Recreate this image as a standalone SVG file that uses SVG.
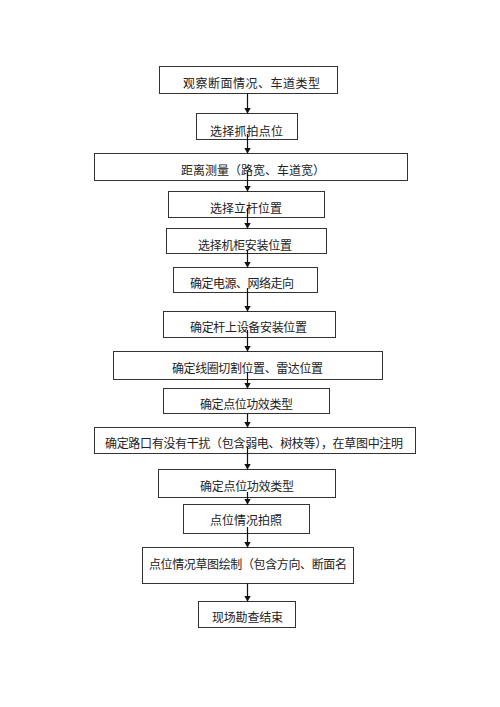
<svg xmlns="http://www.w3.org/2000/svg" width="500" height="707" viewBox="0 0 500 707">
<defs>
<marker id="ah" viewBox="0 0 6 7" refX="6" refY="3.5" markerWidth="6" markerHeight="7" orient="auto" markerUnits="userSpaceOnUse">
<path d="M0,0 L6,3.5 L0,7 z" fill="#111"/>
</marker>
<style>
.box rect{fill:#fff;stroke:#333;stroke-width:1}
.box text{font-family:"Liberation Serif","Noto Sans CJK SC",serif;font-size:12px;fill:#222;text-anchor:middle}
.conn line{stroke:#111;stroke-width:1.2;marker-end:url(#ah)}
</style>
</defs>
<rect width="500" height="707" fill="#fff"/>
<g id="n1" class="box"><rect x="159.5" y="66.5" width="178" height="27"/><text x="251.5" y="87.5" textLength="137" lengthAdjust="spacing">观察断面情况、车道类型</text></g>
<g id="n2" class="box"><rect x="196.5" y="113.5" width="101" height="26"/><text x="246.5" y="136" textLength="73" lengthAdjust="spacing">选择抓拍点位</text></g>
<g id="n3" class="box"><rect x="94.5" y="153.5" width="313" height="27"/><text x="253" y="174.5" textLength="144" lengthAdjust="spacing">距离测量（路宽、车道宽）</text></g>
<g id="n4" class="box"><rect x="168.5" y="191.5" width="156" height="26"/><text x="246" y="212.5" textLength="72" lengthAdjust="spacing">选择立杆位置</text></g>
<g id="n5" class="box"><rect x="166.5" y="228.5" width="160" height="25"/><text x="245" y="249.5" textLength="94" lengthAdjust="spacing">选择机柜安装位置</text></g>
<g id="n6" class="box"><rect x="173.5" y="267.5" width="144" height="25"/><text x="242" y="287.5" textLength="104" lengthAdjust="spacing">确定电源、网络走向</text></g>
<g id="n7" class="box"><rect x="163.5" y="311.5" width="172" height="26"/><text x="248.5" y="332" textLength="117" lengthAdjust="spacing">确定杆上设备安装位置</text></g>
<g id="n8" class="box"><rect x="113.5" y="351.5" width="269" height="28"/><text x="247.5" y="372.5" textLength="151" lengthAdjust="spacing">确定线圈切割位置、雷达位置</text></g>
<g id="n9" class="box"><rect x="163.5" y="388.5" width="166" height="25"/><text x="246.5" y="408.5" textLength="93" lengthAdjust="spacing">确定点位功效类型</text></g>
<g id="n10" class="box"><rect x="94.5" y="427.5" width="321" height="26"/><text x="254" y="448" textLength="298" lengthAdjust="spacing">确定路口有没有干扰（包含弱电、树枝等），在草图中注明</text></g>
<g id="n11" class="box"><rect x="158.5" y="469.5" width="177" height="28"/><text x="247" y="490.5" textLength="94" lengthAdjust="spacing">确定点位功效类型</text></g>
<g id="n12" class="box"><rect x="183.5" y="504.5" width="126" height="29"/><text x="246" y="525" textLength="72" lengthAdjust="spacing">点位情况拍照</text></g>
<g id="n13" class="box"><rect x="142.5" y="547.5" width="211" height="36"/><text x="248" y="569" textLength="198" lengthAdjust="spacing">点位情况草图绘制（包含方向、断面名</text></g>
<g id="n14" class="box"><rect x="198.5" y="601.5" width="97" height="26"/><text x="247.5" y="622" textLength="71" lengthAdjust="spacing">现场勘查结束</text></g>
<g id="connectors" class="conn">
<line x1="247.5" y1="93.5" x2="247.5" y2="113.5"/>
<line x1="247.5" y1="134" x2="247.5" y2="153.5"/>
<line x1="247.5" y1="172" x2="247.5" y2="191.5"/>
<line x1="247.5" y1="208" x2="247.5" y2="228.5"/>
<line x1="247.5" y1="250" x2="247.5" y2="267.5"/>
<line x1="247.5" y1="288" x2="247.5" y2="311.5"/>
<line x1="247.5" y1="330" x2="247.5" y2="351.5"/>
<line x1="247.5" y1="372" x2="247.5" y2="388.5"/>
<line x1="247.5" y1="413.5" x2="247.5" y2="427.5"/>
<line x1="247.5" y1="447" x2="247.5" y2="469.5"/>
<line x1="247.5" y1="492" x2="247.5" y2="504.5"/>
<line x1="247.5" y1="527" x2="247.5" y2="547.5"/>
<line x1="247.5" y1="583.5" x2="247.5" y2="601.5"/>
</g>
</svg>
